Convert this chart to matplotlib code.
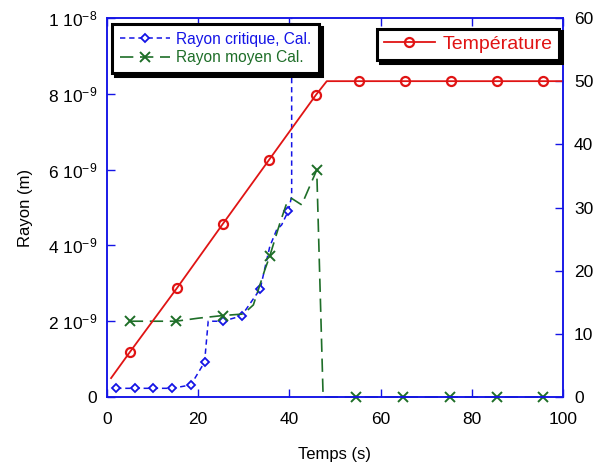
import numpy as np
import matplotlib
matplotlib.use('Agg')
import matplotlib.pyplot as plt

plt.rcParams['font.family'] = ['Liberation Sans', 'DejaVu Sans']
plt.rcParams['mathtext.default'] = 'regular'

# Temperature (right axis, degrees)
t_temp = [0.9, 5.0, 15.4, 25.4, 35.5, 45.8, 48.2, 55.3, 65.4, 75.4, 85.5, 95.6, 100.0]
temp = [3.0, 7.1, 17.3, 27.4, 37.5, 47.8, 50.0, 50.0, 50.0, 50.0, 50.0, 50.0, 50.0]
temp_marks = [1, 2, 3, 4, 5, 7, 8, 9, 10, 11]

# Rayon critique (m, x1e-9)
t_rc = [2.0, 6.2, 10.2, 14.3, 18.4, 21.4, 22.2, 25.4, 29.5, 33.6, 34.7, 35.7, 37.2, 38.3, 39.8, 40.5, 40.5]
rc = [0.23, 0.23, 0.23, 0.23, 0.32, 0.92, 2.0, 2.0, 2.14, 2.85, 3.44, 3.97, 4.41, 4.54, 4.92, 5.3, 15.0]
rc_marks = [0, 1, 2, 3, 4, 5, 7, 8, 9, 14]

# Rayon moyen (m, x1e-9)
t_rm = [5.0, 15.1, 20.0, 25.4, 29.9, 32.1, 34.6, 35.7, 37.9, 39.4, 40.5, 42.7, 46.0, 47.4,
        54.7, 65.0, 75.2, 85.5, 95.7]
rm = [2.0, 2.0, 2.08, 2.15, 2.19, 2.43, 3.35, 3.72, 4.58, 5.11, 5.24, 5.07, 5.99, 0.0,
      0.0, 0.0, 0.0, 0.0, 0.0]
rm_marks = [0, 1, 3, 7, 12, 14, 15, 16, 17, 18]

y_ticks = [0, 2e-9, 4e-9, 6e-9, 8e-9, 1e-8]
y_ticklabels = ['0', '2 10$^{-9}$', '4 10$^{-9}$', '6 10$^{-9}$', '8 10$^{-9}$', '1 10$^{-8}$']

blue = '#1414e6'
green = '#1e6e28'
red = '#e01414'

fig = plt.figure(figsize=(5.93, 4.66), dpi=100)
ax = fig.add_axes([0.1804, 0.148, 0.769, 0.8134])

l_rc, = ax.plot(t_rc, np.array(rc) * 1e-9, color=blue, lw=1.1, dashes=(3.5, 2.5),
                marker='D', markersize=4.5, mfc='white', mec=blue, mew=1.3,
                markevery=rc_marks, label='Rayon critique, Cal.')
l_rm, = ax.plot(t_rm, np.array(rm) * 1e-9, color=green, lw=1.2, dashes=(8, 4),
                marker='x', markersize=7, mec=green, mew=1.4,
                markevery=rm_marks, clip_on=False, label='Rayon moyen Cal.')

ax.set_xlim(0, 100)
ax.set_ylim(0, 1e-8)
ax.set_xticks([0, 20, 40, 60, 80, 100])
ax.set_yticks(y_ticks)
ax.set_yticklabels(y_ticklabels)
ax.set_xlabel('Temps (s)', fontsize=12, labelpad=14)
ax.set_ylabel('Rayon (m)', fontsize=12, labelpad=11)
ax.tick_params(axis='both', direction='in', length=6, width=1, color=blue,
               labelsize=12.5, top=True)
ax.tick_params(axis='x', pad=11)
ax.tick_params(axis='y', pad=7)

ax2 = ax.twinx()
l_t, = ax2.plot(t_temp, temp, color=red, lw=1.3, marker='o', markersize=6.5,
                mfc='none', mec=red, mew=1.6, markevery=temp_marks, label='Température')
ax2.set_ylim(0, 60)
ax2.set_yticks([0, 10, 20, 30, 40, 50, 60])
ax2.tick_params(axis='y', direction='in', length=6, width=1, color=blue,
                labelsize=12.5, pad=8)

for a in (ax, ax2):
    for s in a.spines.values():
        s.set_color(blue)
        s.set_linewidth(1.1)

shadow = {'color': 'black', 'alpha': 1.0}
leg1 = ax2.legend(handles=[l_rc, l_rm], loc='upper left', bbox_to_anchor=(0.005, 0.993),
                  fontsize=11.2, numpoints=1, handlelength=3.2, handletextpad=0.4,
                  labelspacing=0.25, borderpad=0.5, fancybox=False, shadow=shadow,
                  framealpha=1, edgecolor='black', borderaxespad=0.2)
leg1.get_frame().set_linewidth(2.2)
leg1.get_texts()[0].set_color(blue)
leg1.get_texts()[1].set_color(green)
ax2.add_artist(leg1)

leg2 = ax2.legend(handles=[l_t], loc='upper right', bbox_to_anchor=(1.0, 0.982),
                  fontsize=14, numpoints=1, handlelength=2.6, handletextpad=0.4,
                  borderpad=0.35, fancybox=False, shadow=shadow, framealpha=1,
                  edgecolor='black', borderaxespad=0.2)
leg2.get_frame().set_linewidth(2.2)
leg2.get_texts()[0].set_color(red)

fig.savefig('out.png', dpi=100)
